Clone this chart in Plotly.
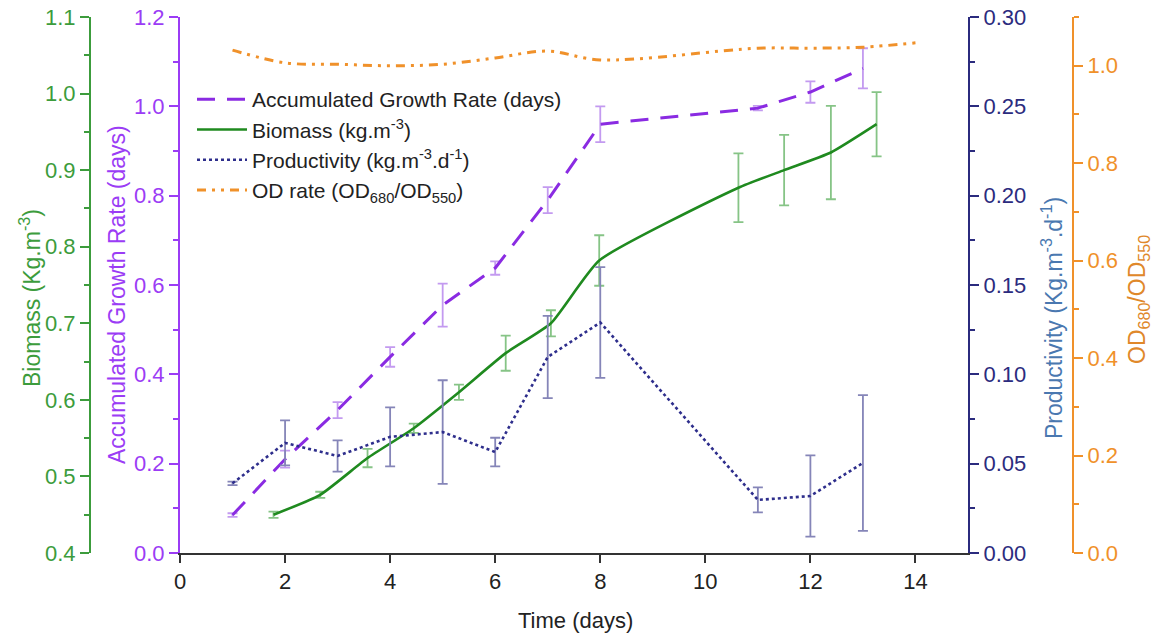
import plotly.graph_objects as go

# ---- data ----
agr_x = [1, 2, 3, 4, 5, 6, 7, 8, 11, 12, 13]
agr_y = [0.085, 0.210, 0.320, 0.439, 0.555, 0.638, 0.790, 0.960, 0.996, 1.032, 1.085]
agr_err = [0.004, 0.019, 0.018, 0.022, 0.048, 0.015, 0.029, 0.040, 0.005, 0.024, 0.045]

bio_x = [1.78, 2.67, 3.57, 4.45, 5.31, 6.2, 7.06, 7.98, 10.63, 11.5, 12.39, 13.26]
bio_y = [0.450, 0.476, 0.524, 0.563, 0.610, 0.661, 0.700, 0.782, 0.877, 0.900, 0.923, 0.960]
bio_err = [0.004, 0.004, 0.012, 0.006, 0.010, 0.023, 0.017, 0.033, 0.045, 0.046, 0.061, 0.042]

prod_x = [1, 2, 3, 4, 5, 6, 7, 8, 11, 12, 13]
prod_y = [0.039, 0.0616, 0.0543, 0.065, 0.0677, 0.0565, 0.1097, 0.129, 0.0297, 0.0319, 0.0504]
prod_err = [0.001, 0.0126, 0.0087, 0.0165, 0.029, 0.008, 0.023, 0.031, 0.007, 0.0227, 0.038]

od_x = [1, 2, 3, 4, 5, 6, 7, 8, 11, 12, 13, 14]
od_y = [1.032, 1.006, 1.003, 1.000, 1.003, 1.016, 1.030, 1.012, 1.036, 1.036, 1.038, 1.047]

x_ticks = [0, 2, 4, 6, 8, 10, 12, 14]

# ---- styles ----
GREEN_L = "#1f8a1f"
GREEN_A = "#3c9c3c"
GREEN_E = "#86c486"
PURP_L = "#8a2be2"
PURP_A = "#9b3cf5"
PURP_E = "#c39af0"
NAVY_L = "#2e2e8c"
NAVY_A = "#2b2b7e"
NAVY_E = "#8585b8"
ORNG = "#f0912a"
FONT = "Liberation Sans, Arial, sans-serif"

W, H = 1164, 637
L_PX, R_PX, T_PX, B_PX = 180, 968, 17, 553

fig = go.Figure()

fig.add_trace(go.Scatter(
    x=agr_x, y=agr_y, name="Accumulated Growth Rate (days)", mode="lines",
    line=dict(color=PURP_L, width=3, dash="18px,12px"),
    error_y=dict(type="data", array=agr_err, color=PURP_E, thickness=1.8, width=5),
    yaxis="y"))

fig.add_trace(go.Scatter(
    x=bio_x, y=bio_y, name="Biomass (kg.m<sup>-3</sup>)", mode="lines",
    line=dict(color=GREEN_L, width=2.6, shape="spline", smoothing=0.5),
    error_y=dict(type="data", array=bio_err, color=GREEN_E, thickness=1.8, width=5),
    yaxis="y2"))

fig.add_trace(go.Scatter(
    x=prod_x, y=prod_y, name="Productivity (kg.m<sup>-3</sup>.d<sup>-1</sup>)", mode="lines",
    line=dict(color=NAVY_L, width=2.6, dash="dot"),
    error_y=dict(type="data", array=prod_err, color=NAVY_E, thickness=1.8, width=5),
    yaxis="y3"))

fig.add_trace(go.Scatter(
    x=od_x, y=od_y, name="OD rate (OD<sub>680</sub>/OD<sub>550</sub>)", mode="lines",
    line=dict(color=ORNG, width=3, dash="9px,6px,3px,6px,3px,6px", shape="spline", smoothing=1.0),
    yaxis="y4"))

TICK = 22

fig.update_layout(
    width=W, height=H,
    margin=dict(l=0, r=0, t=T_PX, b=H - B_PX),
    plot_bgcolor="white", paper_bgcolor="white",
    font=dict(family=FONT, size=21, color="#222"),
    showlegend=True,
    legend=dict(x=192 / W, y=(B_PX - 79) / (B_PX - T_PX), xanchor="left", yanchor="top",
                bgcolor="rgba(0,0,0,0)", font=dict(family=FONT, size=21, color="#222"),
                tracegroupgap=0, itemwidth=50),
    xaxis=dict(domain=[L_PX / W, R_PX / W], range=[0, 15], tickvals=x_ticks, automargin=False,
               showgrid=False, zeroline=False, showline=True, linecolor="#333", linewidth=2,
               ticks="outside", ticklen=8, tickwidth=2, tickcolor="#333",
               tickfont=dict(family=FONT, size=TICK, color="#222")),
    yaxis=dict(range=[0, 1.2], dtick=0.2, tickformat=".1f", automargin=False,
               showgrid=False, zeroline=False, showline=True, linecolor=PURP_A, linewidth=2,
               ticks="outside", ticklen=9, tickwidth=2, tickcolor=PURP_A,
               tickfont=dict(family=FONT, size=TICK, color=PURP_A),
               minor=dict(dtick=0.1, ticks="outside", ticklen=5, tickwidth=2, tickcolor=PURP_A)),
    yaxis2=dict(range=[0.4, 1.1], dtick=0.1, tickformat=".1f", overlaying="y", side="left",
                anchor="free", position=90 / W, automargin=False,
                showgrid=False, zeroline=False, showline=True, linecolor=GREEN_A, linewidth=2,
                ticks="outside", ticklen=9, tickwidth=2, tickcolor=GREEN_A,
                tickfont=dict(family=FONT, size=TICK, color=GREEN_A),
                minor=dict(dtick=0.05, ticks="outside", ticklen=5, tickwidth=2, tickcolor=GREEN_A)),
    yaxis3=dict(range=[0, 0.30], dtick=0.05, tickformat=".2f", overlaying="y", side="right",
                anchor="x", automargin=False,
                showgrid=False, zeroline=False, showline=True, linecolor=NAVY_A, linewidth=2,
                ticks="outside", ticklen=9, tickwidth=2, tickcolor=NAVY_A,
                tickfont=dict(family=FONT, size=TICK, color=NAVY_A),
                minor=dict(dtick=0.025, ticks="outside", ticklen=5, tickwidth=2, tickcolor=NAVY_A)),
    yaxis4=dict(range=[0, 1.1], dtick=0.2, tickformat=".1f", overlaying="y", side="right",
                anchor="free", position=1073 / W, automargin=False,
                showgrid=False, zeroline=False, showline=True, linecolor=ORNG, linewidth=2,
                ticks="outside", ticklen=9, tickwidth=2, tickcolor=ORNG,
                tickfont=dict(family=FONT, size=TICK, color=ORNG),
                minor=dict(dtick=0.1, ticks="outside", ticklen=5, tickwidth=2, tickcolor=ORNG)),
)

def py(pix):
    return (B_PX - pix) / (B_PX - T_PX)

titles = [
    ("Biomass (Kg.m<sup>-3</sup>)", 30, 298, GREEN_A),
    ("Accumulated Growth Rate (days)", 117, 295, PURP_A),
    ("Productivity (Kg.m<sup>-3</sup>.d<sup>-1</sup>)", 1052, 318, "#4a78b0"),
    ("OD<sub>680</sub>/OD<sub>550</sub>", 1138, 300, "#e0882a"),
]
for txt, xp, yp, col in titles:
    fig.add_annotation(text=txt, x=xp / W, y=py(yp), xref="paper", yref="paper",
                       xanchor="center", yanchor="middle", showarrow=False, textangle=-90,
                       font=dict(family=FONT, size=23, color=col))

fig.add_annotation(text="Time (days)", x=575 / W, y=py(620),
                   xref="paper", yref="paper", xanchor="center", yanchor="middle",
                   showarrow=False, font=dict(family=FONT, size=22, color="#222"))

fig.write_html(
    "out.html",
    config={"displayModeBar": False},
    post_script="document.body.style.margin='0';document.body.style.overflow='hidden';",
)
